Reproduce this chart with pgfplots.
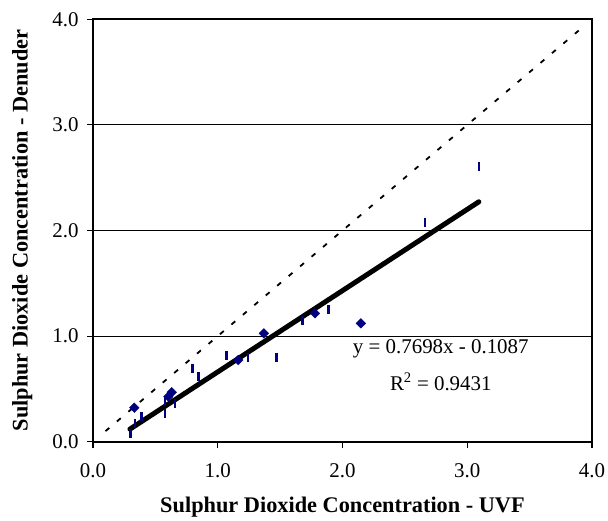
\documentclass[border=0pt]{standalone}
\usepackage{pgfplots}
\pgfplotsset{compat=1.18}
\usepackage{fontspec}
\setmainfont{Liberation Serif}
\definecolor{navy}{RGB}{0,0,128}
\begin{document}
\begin{tikzpicture}
\path[use as bounding box] (-93bp,-79.3bp) rectangle (515bp,441.7bp);
\begin{axis}[
  at={(0,0)}, anchor=south west,
  scale only axis, width=499bp, height=422.4bp,
  xmin=0, xmax=4, ymin=0, ymax=4,
  xtick={0,1,2,3,4}, ytick={0,1,2,3,4},
  xticklabels={0.0,1.0,2.0,3.0,4.0},
  yticklabels={0.0,1.0,2.0,3.0,4.0},
  xtick pos=lower, ytick pos=left,
  tick align=outside, major tick length=6bp,
  tick style={black, line width=1.2bp},
  ymajorgrids, grid style={black, line width=1.2bp},
  axis line style={black, line width=1.6bp},
  ticklabel style={font=\fontsize{21}{23}\selectfont},
  xticklabel style={yshift=-12.5bp},
  yticklabel style={xshift=-5bp},
  xlabel={Sulphur Dioxide Concentration - UVF},
  ylabel={Sulphur Dioxide Concentration - Denuder},
  label style={font=\bfseries\fontsize{22.4}{25}\selectfont},
  xlabel style={at={(axis description cs:0.5,-0.156)}, anchor=center},
  ylabel style={at={(axis description cs:-0.142,0.5)}, anchor=center},
  clip=false,
]
% 1:1 line
\addplot[black, line width=1.8bp, dash pattern=on 5bp off 10bp] coordinates {(0.1,0.1) (3.92,3.92)};
% dash-marker series
\addplot[only marks, mark=|, mark size=4.5bp, mark options={line width=2.6bp, navy}] coordinates {
(0.302,0.079) (0.337,0.174) (0.390,0.237) (0.577,0.269) (0.577,0.379)
(0.657,0.364) (0.799,0.695) (0.847,0.616) (1.071,0.821) (1.244,0.799)
(1.472,0.799) (1.680,1.152) (1.889,1.254) (2.660,2.074) (3.093,2.604)
};
% diamond series
\addplot[only marks, mark=square*, mark size=3.4bp, mark options={rotate=45, navy, fill=navy}] coordinates {
(0.331,0.322) (0.604,0.426) (0.631,0.468) (1.164,0.774) (1.370,1.026)
(1.779,1.216) (2.147,1.121)
};
% trend line
\addplot[black, line width=5bp, line cap=round] coordinates {(0.296,0.119) (3.093,2.272)};
\node[font=\fontsize{21}{23}\selectfont] at (axis cs:2.788,0.878) {y = 0.7698x - 0.1087};
\node[font=\fontsize{21}{23}\selectfont] at (axis cs:2.788,0.565) {R\textsuperscript{2} = 0.9431};
\end{axis}
\end{tikzpicture}
\end{document}
